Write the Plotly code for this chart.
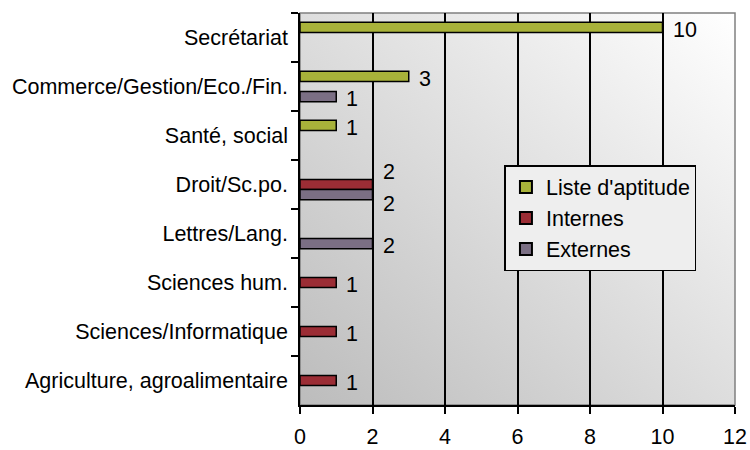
import base64
import plotly.graph_objects as go

categories = ["Secrétariat", "Commerce/Gestion/Eco./Fin.", "Santé, social", "Droit/Sc.po.",
              "Lettres/Lang.", "Sciences hum.", "Sciences/Informatique", "Agriculture, agroalimentaire"]
liste_aptitude = [10, 3, 1, None, None, None, None, None]
internes = [None, None, None, 2, None, 1, 1, 1]
externes = [None, 1, None, 2, 2, None, None, None]
x_ticks = [0, 2, 4, 6, 8, 10, 12]

series = [
    ("Liste d'aptitude", liste_aptitude, "#A8B23A"),
    ("Internes", internes, "#9B2D35"),
    ("Externes", externes, "#7B6F84"),
]

FONT = "Liberation Sans, Arial"
FS = 21.5

fig = go.Figure()
for name, vals, col in series:
    fig.add_trace(go.Bar(
        y=categories, x=vals, name=name, orientation="h",
        marker=dict(color=col, line=dict(color="black", width=1.5)),
    ))

# value labels, placed beside each bar end
slot = 10  # px between grouped bars
for si, (name, vals, col) in enumerate(series):
    for cat, v in zip(categories, vals):
        if v is None:
            continue
        dy = (si - 1) * slot + 2
        if cat == "Droit/Sc.po." and name == "Internes":
            dy = -13
        if cat == "Droit/Sc.po." and name == "Externes":
            dy = 19
        fig.add_annotation(x=v, y=cat, text=str(v), showarrow=False, xanchor="left",
                           yanchor="middle", xshift=8, yshift=-dy,
                           font=dict(family=FONT, size=FS, color="black"))

svg = ('<svg xmlns="http://www.w3.org/2000/svg" width="100" height="100" preserveAspectRatio="none">'
       '<defs><linearGradient id="g" x1="0" y1="1" x2="1" y2="0">'
       '<stop offset="0" stop-color="#bcbcbc"/><stop offset="1" stop-color="#ffffff"/>'
       '</linearGradient></defs><rect width="100" height="100" fill="url(#g)"/></svg>')
src = "data:image/svg+xml;base64," + base64.b64encode(svg.encode()).decode()

fig.update_layout(
    width=750, height=450,
    margin=dict(l=300, r=15, t=13, b=45, autoexpand=False),
    paper_bgcolor="white", plot_bgcolor="rgba(0,0,0,0)",
    barmode="group", bargap=0.38, bargroupgap=0,
    font=dict(family=FONT, size=FS, color="black"),
    images=[dict(source=src, xref="paper", yref="paper", x=0, y=1, sizex=1, sizey=1,
                 sizing="stretch", layer="below")],
    shapes=[dict(type="rect", xref="paper", yref="paper", x0=0, y0=0, x1=1, y1=1,
                 line=dict(color="#808080", width=1.5), layer="below")],
    legend=dict(x=0.47, y=0.612, xanchor="left", yanchor="top",
                bgcolor="#eeeeee", bordercolor="black", borderwidth=1.5,
                font=dict(size=FS), tracegroupgap=0, itemsizing="constant",
                itemwidth=30),
    showlegend=True,
)
fig.update_xaxes(range=[0, 12], tickvals=x_ticks, ticks="outside", ticklen=7, tickwidth=1.5,
                 tickcolor="black", showline=True, linecolor="black", linewidth=1.5,
                 showgrid=True, gridcolor="black", gridwidth=1.5, zeroline=False,
                 tickfont=dict(size=FS), automargin=False, ticklabelstandoff=4)
fig.update_yaxes(autorange="reversed", tickson="boundaries", ticks="outside", ticklen=7,
                 tickwidth=1.5, tickcolor="black", showline=True, linecolor="black",
                 linewidth=1.5, showgrid=False, tickfont=dict(size=FS), automargin=False,
                 ticklabelstandoff=6)

fig.write_html("out.html", config={"displayModeBar": False},
               post_script="document.body.style.margin='0';document.body.style.padding='0';")
